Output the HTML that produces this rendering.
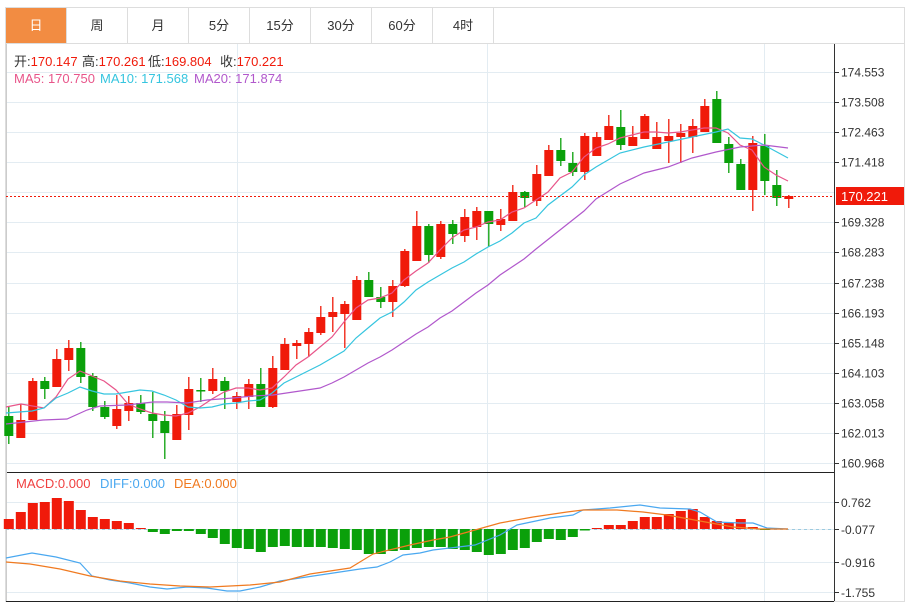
<!DOCTYPE html>
<html><head><meta charset="utf-8">
<style>
body{margin:0;background:#fff;width:911px;height:603px;overflow:hidden;font-family:"Liberation Sans","Noto Sans CJK SC",sans-serif;}
svg{position:absolute;left:0;top:0}
</style></head><body>
<svg id="s" width="911" height="603" xmlns="http://www.w3.org/2000/svg" font-family="Liberation Sans, Noto Sans CJK SC, sans-serif">
<rect x="5.5" y="7.5" width="899" height="594" fill="#fff" stroke="#ddd"/>
<line x1="5" y1="43.5" x2="905" y2="43.5" stroke="#ddd"/>
<rect x="6" y="8" width="60" height="35" fill="#f28c42"/>
<g stroke="#ddd"><line x1="66.5" y1="8" x2="66.5" y2="43"/><line x1="127.5" y1="8" x2="127.5" y2="43"/><line x1="188.5" y1="8" x2="188.5" y2="43"/><line x1="249.5" y1="8" x2="249.5" y2="43"/><line x1="310.5" y1="8" x2="310.5" y2="43"/><line x1="371.5" y1="8" x2="371.5" y2="43"/><line x1="432.5" y1="8" x2="432.5" y2="43"/><line x1="493.5" y1="8" x2="493.5" y2="43"/></g>
<g font-size="13" text-anchor="middle" fill="#333"><text x="36" y="30" fill="#fff">日</text><text x="97" y="30">周</text><text x="158" y="30">月</text><text x="219" y="30">5分</text><text x="280" y="30">15分</text><text x="341" y="30">30分</text><text x="402" y="30">60分</text><text x="463" y="30">4时</text></g>
<g id="grid" stroke="#e3ecf2" stroke-width="1"></g>
<line x1="834.5" y1="44" x2="834.5" y2="601" stroke="#333"/>
<line x1="6" y1="472.5" x2="834" y2="472.5" stroke="#222"/>
<line x1="6" y1="601.5" x2="834" y2="601.5" stroke="#222"/>
<line x1="6.5" y1="44" x2="6.5" y2="601" stroke="#ccc"/>
<g id="ticks" font-size="12" fill="#333"></g>
<line x1="6" y1="529.5" x2="834" y2="529.5" stroke="#9ccbe0" stroke-dasharray="3,3"/>
<g id="macd"></g>
<g id="cand"></g>
<g id="lines" fill="none" stroke-width="1.2"></g>
<line x1="6" y1="196.5" x2="834" y2="196.5" stroke="#f01a0a" stroke-dasharray="2,2"/>
<rect x="836" y="187" width="68" height="18" fill="#f01a0a"/>
<text x="841" y="201" font-size="13" fill="#fff">170.221</text>
<g font-size="13"><text x="14" y="66" fill="#333">开:<tspan fill="#f01a0a">170.147</tspan></text><text x="82" y="66" fill="#333">高:<tspan fill="#f01a0a">170.261</tspan></text><text x="148" y="66" fill="#333">低:<tspan fill="#f01a0a">169.804</tspan></text><text x="220" y="66" fill="#333">收:<tspan fill="#f01a0a">170.221</tspan></text>
<text x="14" y="83" fill="#e8558a">MA5: 170.750</text><text x="100" y="83" fill="#36c5df">MA10: 171.568</text><text x="194" y="83" fill="#b158cc">MA20: 171.874</text>
<text x="16" y="488" fill="#f04040">MACD:0.000</text><text x="100" y="488" fill="#4aa8f0">DIFF:0.000</text><text x="174" y="488" fill="#f07a20">DEA:0.000</text></g>
</svg>
<script>
const NS="http://www.w3.org/2000/svg";
function el(p,t,a){const e=document.createElementNS(NS,t);for(const k in a)e.setAttribute(k,a[k]);document.getElementById(p).appendChild(e);return e;}
const labs=["174.553","173.508","172.463","171.418","170.373","169.328","168.283","167.238","166.193","165.148","164.103","163.058","162.013","160.968"];
for(let i=0;i<14;i++){const y=Math.round(72+i*30.08)+0.5;el("grid","line",{x1:6,y1:y,x2:834,y2:y});
 if(i!=4){el("ticks","line",{x1:834,y1:y,x2:839,y2:y,stroke:"#333"});const t=el("ticks","text",{x:841,y:y+4});t.textContent=labs[i];}}
[[502,"0.762"],[529,"-0.077"],[562,"-0.916"],[592,"-1.755"]].forEach(([y,l])=>{el("grid","line",{x1:6,y1:y+.5,x2:834,y2:y+.5});el("ticks","line",{x1:834,y1:y+.5,x2:839,y2:y+.5,stroke:"#333"});const t=el("ticks","text",{x:841,y:y+5});t.textContent=l;});
[237.5,487.5,764.5].forEach(x=>el("grid","line",{x1:x,y1:44,x2:x,y2:601}));
const R="#f01a0a",G="#0aa00a";
const C=[
[G,416,436,406,444],[R,420,438,404,438],[R,381,420,378,420],[G,381,389,377,399],[R,359,387,349,387],[R,348,360,340,371],[G,348,377,342,383],[G,376,407,373,411],[G,407,417,401,419],[R,409,426,395,429],
[R,403,411,396,421],[G,403,412,395,414],[G,414,421,392,438],[G,421,433,411,459],[R,414,440,405,440],[R,389,415,377,430],[G,390,391,378,402],[R,379,391,368,394],[G,381,391,377,409],[R,396,402,392,409],
[R,384,397,379,409],[G,384,407,368,407],[R,368,407,356,408],[R,344,370,338,370],[R,343,346,340,359],[R,332,344,328,357],[R,317,333,306,335],[R,312,317,297,332],[R,304,314,301,348],[R,280,320,276,320],
[G,280,297,272,297],[G,297,302,287,308],[R,286,302,280,317],[R,251,286,249,287],[R,226,261,211,261],[G,226,255,224,263],[R,224,257,221,259],[G,224,234,220,244],[R,217,236,209,242],[R,211,227,207,240],
[G,211,224,211,247],[R,219,225,209,231],[R,192,221,185,221],[G,192,198,191,207],[R,174,201,165,206],[R,150,176,145,176],[G,150,161,138,166],[G,163,172,152,176],[R,136,172,133,180],[R,137,156,132,156],
[R,126,140,115,140],[G,127,145,110,150],[R,137,146,126,146],[R,116,139,114,139],[R,137,149,122,149],[R,136,141,119,163],[R,133,137,124,163],[R,126,137,119,153],[R,106,132,99,132],[G,99,143,91,143],
[G,144,163,137,173],[G,164,190,159,190],[R,143,190,136,211],[G,146,181,134,195],[G,185,198,170,206],[R,196,199,195,208]];
C.forEach((c,i)=>{const x=8.8+12*i;el("cand","line",{x1:x,y1:c[3],x2:x,y2:c[4],stroke:c[0],"stroke-width":1.3});el("cand","rect",{x:x-4.5,y:c[1],width:9,height:Math.max(1.5,c[2]-c[1]),fill:c[0]});});
const M=[519,512,503,502,498,501,510,517,519,521,523,528,532,534,531,531,534,538,544,548,549,552,547,546,547,547,547,548,549,550,554,554,551,550,548,547,547,549,550,552,555,554,550,548,542,539,540,537,530.5,528,525,525,521,517,517,514,511,509,517,521,523,519,527,529];
M.forEach((y,i)=>{const x=8.8+12*i;const top=Math.min(y,529),h=Math.max(1,Math.abs(y-529));el("macd","rect",{x:x-5,y:top,width:10,height:h,fill:y<529?R:G});});
function pl(col,pts){el("lines","polyline",{points:pts.map(p=>p.join(",")).join(" "),stroke:col});}
pl("#e8558a",[[6,407],[21,404],[44,408],[56,397],[68,379],[80,371],[104,381],[116,390],[128,404],[140,409],[152,413],[164,415],[176,416],[188,413],[200,407],[212,399],[224,392],[236,388],[248,388],[260,390],[272,388],[284,377],[296,365],[308,357],[320,347],[332,337],[344,322],[356,308],[368,300],[380,298],[392,293],[404,280],[416,271],[428,263],[440,250],[452,238],[464,230],[476,227],[488,222],[500,220],[512,212],[524,208],[536,200],[548,192],[560,178],[572,172],[584,157],[596,148],[608,144],[620,138],[632,135],[644,132],[656,132],[668,133],[680,132],[692,130],[704,128],[716,128],[728,133],[740,145],[752,150],[764,167],[776,175],[788,181]]);
pl("#36c5df",[[6,413],[32,411],[44,408],[56,398],[68,393],[80,387],[92,391],[104,394],[116,394],[128,392],[140,390],[152,391],[164,395],[176,400],[188,407],[200,408],[212,407],[224,404],[236,403],[248,401],[260,400],[272,393],[284,383],[296,377],[308,371],[320,365],[332,358],[344,351],[356,338],[368,328],[380,318],[392,312],[404,302],[416,290],[428,282],[440,275],[452,268],[464,262],[476,254],[488,247],[500,241],[512,233],[524,223],[536,218],[548,205],[572,187],[584,175],[596,167],[620,153],[644,147],[668,142],[692,137],[716,132],[728,129],[740,138],[752,139],[764,145],[788,158]]);
pl("#b158cc",[[6,424],[43,420],[67,419],[87,410],[100,406],[127,405],[153,402],[167,402],[187,403],[207,400],[233,398],[253,396],[273,395],[300,391],[320,388],[332,383],[344,377],[356,370],[368,363],[380,357],[392,350],[404,342],[416,334],[428,327],[440,318],[452,311],[464,302],[476,293],[488,285],[500,275],[512,267],[524,259],[536,249],[560,230],[584,211],[596,199],[620,184],[644,173],[668,167],[692,158],[716,152],[740,147],[764,145],[788,148]]);
el("lines","polyline",{points:"6,558 32,553 56,557 80,563 92,576 110,580 130,583 150,587 167,589 187,587 207,588 227,591 240,591 260,587 280,581 300,578 320,575 340,572 360,569 377,567 390,562 403,555 420,553 433,550 450,548 475,545 500,535 517,525 550,518 573,515 583,510 610,508 640,505 660,508 690,509 700,512 717,522 740,523 753,523 767,528 788,529",stroke:"#4aa8f0"});
el("lines","polyline",{points:"6,562 30,564 60,569 90,576 120,581 150,584 180,586 210,587 250,585 280,582 310,574 350,568 373,554 410,545 433,540 450,537 500,523 533,517 567,512 583,510 617,510 643,512 667,515 700,521 733,527 760,529 788,529",stroke:"#f07a20"});
</script>
</body></html>
